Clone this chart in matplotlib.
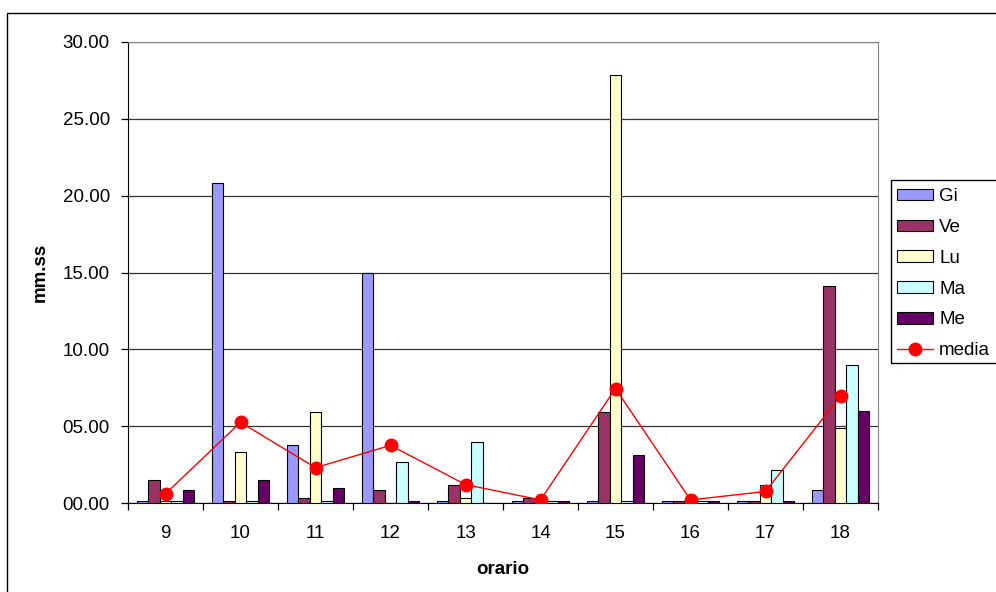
import matplotlib
matplotlib.use("Agg")
import matplotlib.pyplot as plt
import numpy as np
from matplotlib.patches import Rectangle
from matplotlib.ticker import FuncFormatter, MultipleLocator, FixedLocator

plt.rcParams['font.family'] = ['Liberation Sans', 'DejaVu Sans']

categories = ["9", "10", "11", "12", "13", "14", "15", "16", "17", "18"]
gi = [0.15, 20.85, 3.8, 15.0, 0.15, 0.15, 0.15, 0.15, 0.15, 0.85]
ve = [1.5, 0.15, 0.35, 0.85, 1.15, 0.35, 5.9, 0.15, 0.15, 14.15]
lu = [0.15, 3.3, 5.9, 0.0, 0.3, 0.15, 27.85, 0.15, 1.15, 4.85]
ma = [0.15, 0.15, 0.15, 2.65, 4.0, 0.15, 0.15, 0.15, 2.15, 9.0]
me = [0.85, 1.5, 1.0, 0.1, 0.0, 0.15, 3.15, 0.15, 0.15, 6.0]
media = [0.6, 5.25, 2.3, 3.75, 1.2, 0.2, 7.45, 0.2, 0.75, 6.95]

series = [("Gi", gi, "#9999FF"), ("Ve", ve, "#993366"), ("Lu", lu, "#FFFFCC"),
          ("Ma", ma, "#CCFFFF"), ("Me", me, "#660066")]

FS = 13.5
fig = plt.figure(figsize=(9.96, 5.92), dpi=100)
ax = fig.add_axes([128/996, 1-503/592, 750/996, 461/592])

x = np.arange(len(categories))
bw = 0.152
handles = []
for i, (name, vals, col) in enumerate(series):
    h = ax.bar(x + (i - 2) * bw, vals, width=bw, color=col, edgecolor='black',
               linewidth=0.8, label=name, zorder=3)
    handles.append(h)
ln, = ax.plot(x, media, color='#FF0000', marker='o', markersize=9, linewidth=1.0,
              label='media', zorder=4)
handles.append(ln)

ax.set_xlim(-0.5, len(categories) - 0.5)
ax.set_ylim(0, 30)
ax.yaxis.set_major_locator(MultipleLocator(5))
ax.yaxis.set_major_formatter(FuncFormatter(lambda v, p: f"{v:05.2f}"))
ax.grid(axis='y', color='#333333', linewidth=0.9, zorder=0)
ax.set_xticks(x)
ax.set_xticklabels(categories)
ax.tick_params(axis='x', which='major', length=0, pad=16, labelsize=FS)
ax.xaxis.set_minor_locator(FixedLocator(np.arange(-0.5, len(categories), 1)))
ax.tick_params(axis='x', which='minor', length=5, direction='out', width=0.9)
ax.tick_params(axis='y', length=5, direction='out', width=0.9, labelsize=FS, pad=8)
for s in ['top', 'right']:
    ax.spines[s].set_color('#808080')
for s in ['left', 'bottom']:
    ax.spines[s].set_color('black')
ax.set_ylabel('mm.ss', fontsize=FS, fontweight='bold')
ax.yaxis.set_label_coords(-88/750, 0.5)
ax.set_xlabel('orario', fontsize=FS, fontweight='bold')
ax.xaxis.set_label_coords(0.5, -66/461)
ax.xaxis.label.set_va('center')
ax.yaxis.label.set_va('center')

leg = fig.legend(handles=handles, labels=[h.get_label() for h in handles],
                 loc='upper left', bbox_to_anchor=(897/996, 1-188/592),
                 frameon=False, fontsize=FS, labelspacing=0.74,
                 handlelength=1.9, handleheight=0.55, handletextpad=0.35,
                 borderpad=0.0, borderaxespad=0)

fig.add_artist(Rectangle((891/996, 1-363/592), 0.2, (363-180)/592, transform=fig.transFigure,
                         fill=False, edgecolor='black', linewidth=1.0))

fig.add_artist(Rectangle((7/996, -0.1), 1.2, 1.1 - 13/592, transform=fig.transFigure,
                         fill=False, edgecolor='black', linewidth=1.0))

fig.savefig('out.png', dpi=100)
